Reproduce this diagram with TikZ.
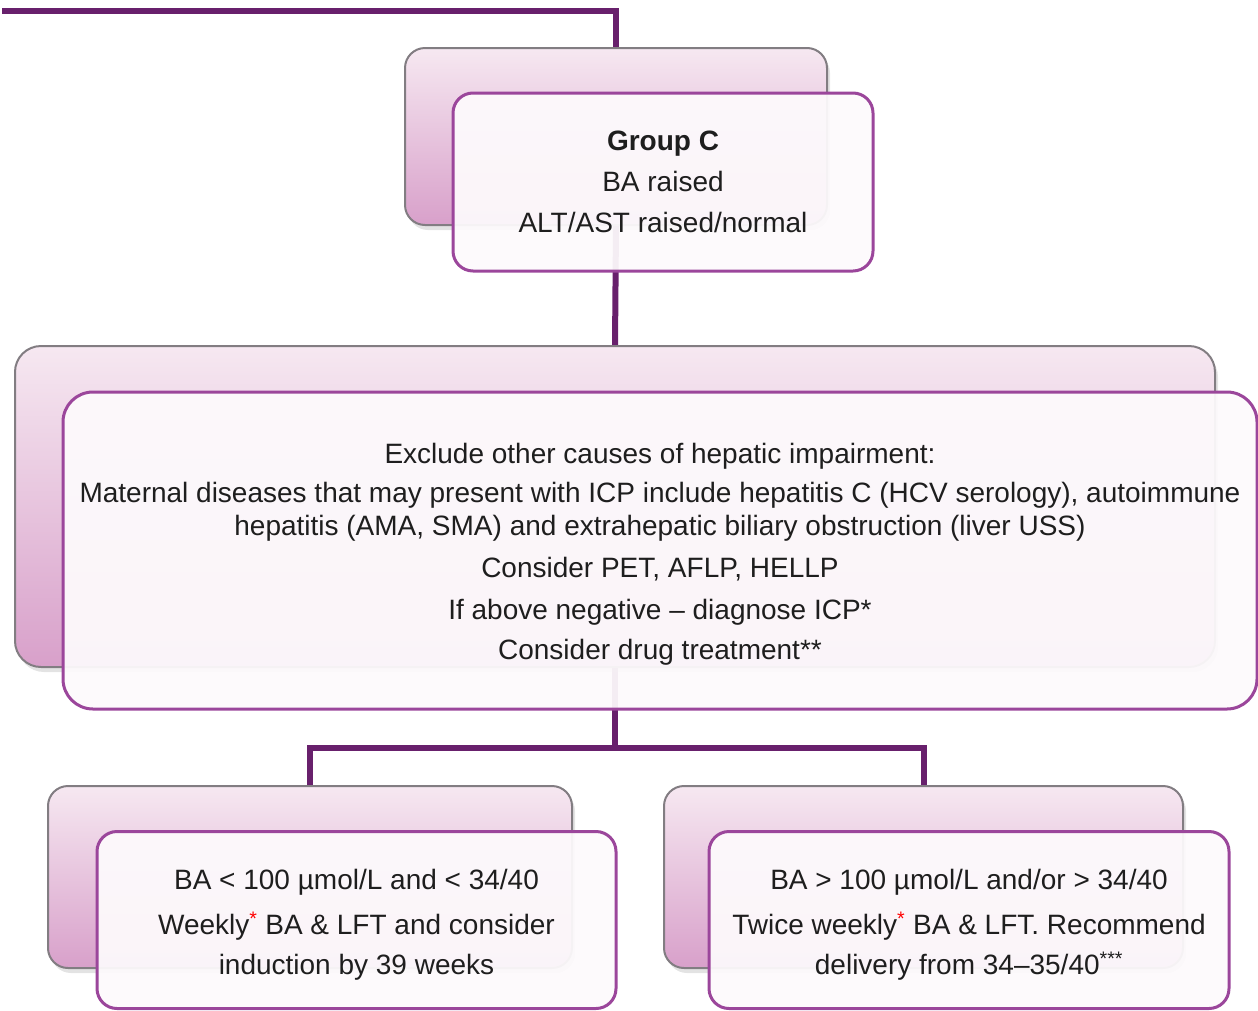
\documentclass[tikz,border=0pt]{standalone}
\usepackage{fontspec}
\setmainfont{Liberation Sans}
\usetikzlibrary{shadows}
\definecolor{conn}{RGB}{104,32,108}
\definecolor{frontborder}{RGB}{155,70,155}
\definecolor{backtop}{RGB}{246,232,241}
\definecolor{backbot}{RGB}{216,160,202}
\definecolor{backborder}{RGB}{130,125,130}
\definecolor{frontfill}{RGB}{253,250,252}
\definecolor{txt}{RGB}{30,30,30}
\pgfdeclarelayer{bg}
\pgfsetlayers{bg,main}
\begin{document}
\begin{tikzpicture}[x=1pt,y=-1pt,
  backbox/.style={draw=backborder, line width=2pt, rounded corners=#1,
    top color=backtop, bottom color=backbot, inner sep=0pt,
    drop shadow={opacity=0.22, shadow xshift=3pt, shadow yshift=-5pt}},
  frontbox/.style={draw=frontborder, line width=3pt, rounded corners=#1,
    fill=frontfill, fill opacity=0.94, text opacity=1, inner sep=0pt,
    align=center, text=txt, font=\fontsize{28}{33}\selectfont},
  connector/.style={draw=conn, line width=6pt, line join=miter}
]
\useasboundingbox (0,0) rectangle (1258,1010);

% Group C
\node[backbox=20pt, minimum width=422pt, minimum height=177pt] (backC) at (616,136.5) {};
\node[frontbox=20pt, minimum width=420pt, minimum height=178pt] (frontC) at (663,182)
  {\textbf{Group C}\\[8pt]BA raised\\[8pt]ALT/AST raised/normal};

% Exclusion box
\node[backbox=26pt, minimum width=1200pt, minimum height=321pt] (back2) at (615,506.5) {};
\node[frontbox=30pt, minimum width=1194pt, minimum height=317pt] (front2) at (660,550.5)
  {\rule{0pt}{28pt}Exclude other causes of hepatic impairment:\\[6pt]
   Maternal diseases that may present with ICP include hepatitis C (HCV serology), autoimmune\\
   hepatitis (AMA, SMA) and extrahepatic biliary obstruction (liver USS)\\[9pt]
   Consider PET, AFLP, HELLP\\[9pt]
   If above negative – diagnose ICP*\\[7pt]
   Consider drug treatment**};

% Bottom left
\node[backbox=20pt, minimum width=524pt, minimum height=182pt] (back3) at (310,877) {};
\node[frontbox=20pt, minimum width=519pt, minimum height=177pt] (front3) at (356.5,920)
  {\rule{0pt}{30pt}BA < 100 µmol/L and < 34/40\\[12pt]
   Weekly\textsuperscript{\textcolor{red}{*}} BA \& LFT and consider\\[7pt]
   induction by 39 weeks};

% Bottom right
\node[backbox=20pt, minimum width=519pt, minimum height=182pt] (back4) at (923.5,877) {};
\node[frontbox=20pt, minimum width=520pt, minimum height=177pt] (front4) at (969,920)
  {\rule{0pt}{30pt}BA > 100 µmol/L and/or > 34/40\\[12pt]
   Twice weekly\textsuperscript{\textcolor{red}{*}} BA \& LFT. Recommend\\[7pt]
   delivery from 34–35/40\textsuperscript{***}};

\coordinate (start) at (2,11);
\coordinate (split) at (615,748);

\begin{pgfonlayer}{bg}
  \draw[connector] (start) -| (backC.north);
  \draw[connector] (backC.south) -- (back2.north);
  \draw[connector] (back2.south) -- (split);
  \draw[connector] (back3.north) |- (split) -| (back4.north);
\end{pgfonlayer}
\end{tikzpicture}
\end{document}
